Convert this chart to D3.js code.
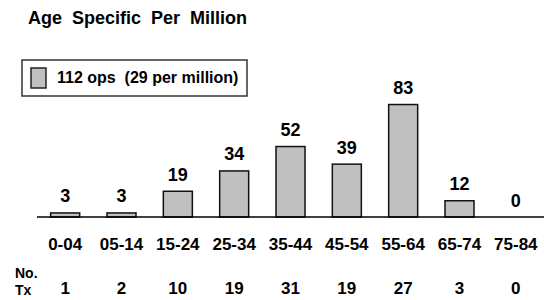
<!DOCTYPE html>
<html>
<head>
<meta charset="utf-8">
<script src="https://cdn.jsdelivr.net/npm/d3@7.9.0/dist/d3.min.js"></script>
<style>
  body { margin: 0; background: #fff; }
  svg text { font-family: Arial, "Liberation Sans", sans-serif; font-weight: bold; fill: #000; }
</style>
</head>
<body>
<svg id="chart" width="544" height="300"></svg>
<script>
// chart data
const ageGroups = ['0-04', '05-14', '15-24', '25-34', '35-44', '45-54', '55-64', '65-74', '75-84'];
const perMillion = [3, 3, 19, 34, 52, 39, 83, 12, 0];
const numTx = [1, 2, 10, 19, 31, 19, 27, 3, 0];
const legendLabel = '112 ops  (29 per million)';

const svg = d3.select('#chart');

const baseY = 217;
const x = d3.scaleBand()
  .domain(ageGroups)
  .range([37, 544])
  .paddingInner(0.485)
  .paddingOuter(0.2425);

const y = d3.scaleLinear()
  .domain([0, 90])
  .range([baseY, baseY - 90 * 1.355]);

// title
svg.append('text')
  .attr('x', 28)
  .attr('y', 23.5)
  .attr('font-size', 18)
  .attr('xml:space', 'preserve')
  .style('white-space', 'pre')
  .text('Age  Specific  Per  Million');

// legend
const legend = svg.append('g');
legend.append('rect')
  .attr('x', 22).attr('y', 60)
  .attr('width', 225).attr('height', 36)
  .attr('fill', '#fff')
  .attr('stroke', '#333')
  .attr('stroke-width', 1.5);
legend.append('rect')
  .attr('x', 31).attr('y', 68)
  .attr('width', 15).attr('height', 20)
  .attr('fill', '#c0c0c0')
  .attr('stroke', '#222')
  .attr('stroke-width', 1.5);
legend.append('text')
  .attr('x', 57)
  .attr('y', 82.5)
  .attr('font-size', 16)
  .style('white-space', 'pre')
  .text(legendLabel);

// bars
svg.selectAll('rect.bar')
  .data(perMillion)
  .enter()
  .append('rect')
  .attr('class', 'bar')
  .attr('x', (d, i) => x(ageGroups[i]))
  .attr('y', (d) => y(d))
  .attr('width', x.bandwidth())
  .attr('height', (d) => baseY - y(d))
  .attr('fill', '#c0c0c0')
  .attr('stroke', '#111')
  .attr('stroke-width', 1.5);

// baseline
svg.append('line')
  .attr('x1', x.range()[0]).attr('x2', x.range()[1])
  .attr('y1', baseY).attr('y2', baseY)
  .attr('stroke', '#000')
  .attr('stroke-width', 1.5);

// value labels
svg.selectAll('text.val')
  .data(perMillion)
  .enter()
  .append('text')
  .attr('class', 'val')
  .attr('x', (d, i) => x(ageGroups[i]) + x.bandwidth() / 2)
  .attr('y', (d) => y(d) - 10.5)
  .attr('text-anchor', 'middle')
  .attr('font-size', 18)
  .text((d) => d);

// category labels
svg.selectAll('text.cat')
  .data(ageGroups)
  .enter()
  .append('text')
  .attr('class', 'cat')
  .attr('x', (d) => x(d) + x.bandwidth() / 2)
  .attr('y', 250)
  .attr('text-anchor', 'middle')
  .attr('font-size', 17)
  .text((d) => d);

// No. Tx row
svg.append('text')
  .attr('x', 15).attr('y', 278)
  .attr('font-size', 14)
  .text('No.');
svg.append('text')
  .attr('x', 15).attr('y', 295)
  .attr('font-size', 14)
  .text('Tx');

svg.selectAll('text.tx')
  .data(numTx)
  .enter()
  .append('text')
  .attr('class', 'tx')
  .attr('x', (d, i) => x(ageGroups[i]) + x.bandwidth() / 2)
  .attr('y', 294)
  .attr('text-anchor', 'middle')
  .attr('font-size', 17)
  .text((d) => d);
</script>
</body>
</html>
